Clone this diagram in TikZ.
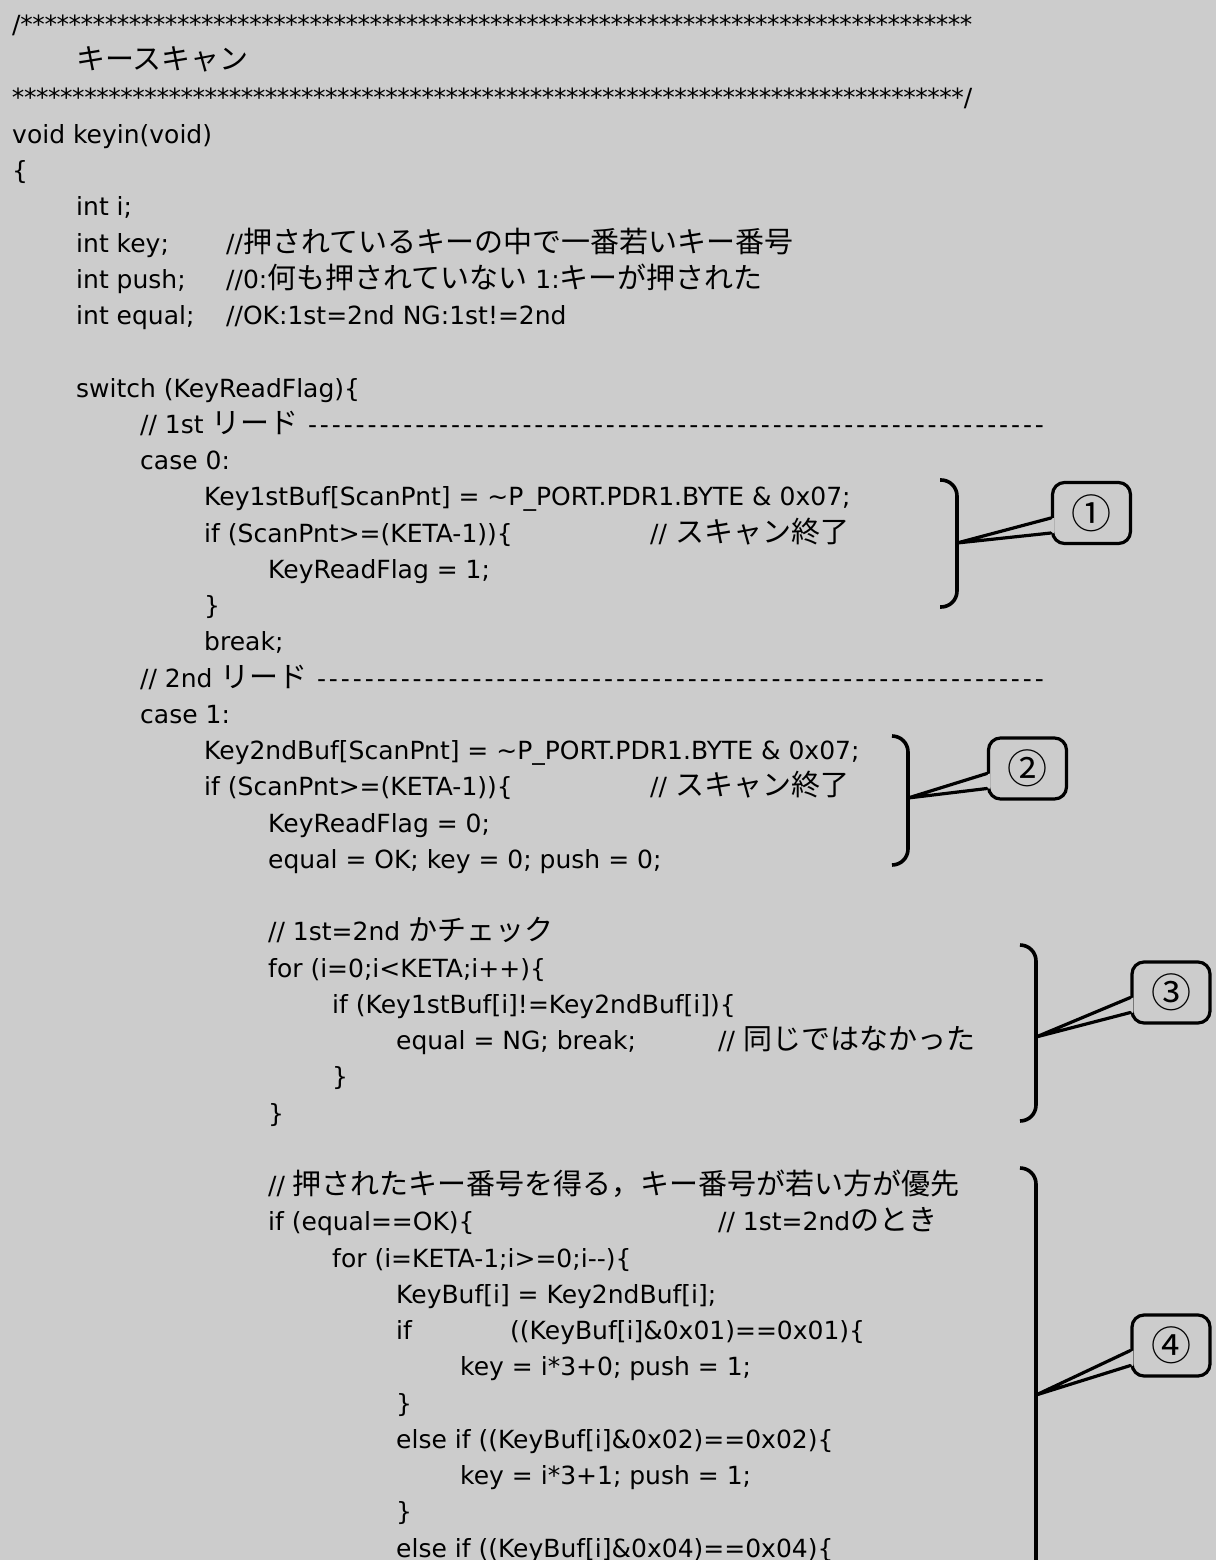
\documentclass[tikz,border=0pt]{standalone}
\usepackage{fontspec}
\usetikzlibrary{calc}
\newfontfamily\codefont{DejaVu Sans}
\newfontfamily\jpfont{Noto Sans CJK JP}
\newcommand\jp[1]{{\jpfont\fontsize{29pt}{30pt}\selectfont #1}}
\newcommand\repfill[2]{\xleaders\hbox to #1{\hss#2\hss}\hfill}
\definecolor{paper}{HTML}{CCCCCC}

\tikzset{
  code/.style={anchor=base west, inner sep=0pt, font=\codefont\fontsize{25pt}{30pt}\selectfont},
  brace/.style={line width=3.6pt, rounded corners=16pt},
  callbox/.style={draw, line width=3.2pt, rounded corners=12pt, fill=paper,
    minimum width=78pt, minimum height=61pt, inner sep=0pt,
    font=\jpfont\fontsize{40pt}{40pt}\selectfont},
  wedge/.style={line width=3.2pt, line join=round, line cap=round},
}

\begin{document}
\begin{tikzpicture}[x=1pt, y=-1pt]
\useasboundingbox (0,0) rectangle (1216,1560);
\fill[paper] (0,0) rectangle (1216,1560);
\clip (0,0) rectangle (1216,1560);

% header comment
\node[code] (l0) at (12,34) {\hbox to 960pt{/\repfill{12pt}{*}}};
\node[code] (l1) at (76,70) {\jp{キースキャン}};
\node[code] (l2) at (12,107) {\hbox to 960pt{\repfill{12pt}{*}/}};

% declarations
\node[code] (l3) at (12,143) {void keyin(void)};
\node[code] (l4) at (12,179) {\{};
\node[code] (l5) at (76,215) {int i;};
\node[code] (l6) at (76,252) {int key;};
\node[code] (c6) at (226,252) {//\jp{押されているキーの中で一番若いキー番号}};
\node[code] (l7) at (76,288) {int push;};
\node[code] (c7) at (226,288) {//0:\jp{何も押されていない} 1:\jp{キーが押された}};
\node[code] (l8) at (76,324) {int equal;};
\node[code] (c8) at (226,324) {//OK:1st=2nd NG:1st!=2nd};

% 1st read
\node[code] (l10) at (76,397) {switch (KeyReadFlag)\{};
\node[code] (l11) at (140,433) {\hbox to 905pt{// 1st \jp{リード} \repfill{11.9pt}{-}}};
\node[code] (l12) at (140,469) {case 0:};
\node[code] (l13) at (204,505) {Key1stBuf[ScanPnt] = \textasciitilde P\_PORT.PDR1.BYTE \& 0x07;};
\node[code] (l14) at (204,542) {if (ScanPnt>=(KETA-1))\{};
\node[code] (c14) at (650,542) {// \jp{スキャン終了}};
\node[code] (l15) at (268,578) {KeyReadFlag = 1;};
\node[code] (l16) at (204,614) {\}};
\node[code] (l17) at (204,650) {break;};

% 2nd read
\node[code] (l18) at (140,687) {\hbox to 905pt{// 2nd \jp{リード} \repfill{11.9pt}{-}}};
\node[code] (l19) at (140,723) {case 1:};
\node[code] (l20) at (204,759) {Key2ndBuf[ScanPnt] = \textasciitilde P\_PORT.PDR1.BYTE \& 0x07;};
\node[code] (l21) at (204,795) {if (ScanPnt>=(KETA-1))\{};
\node[code] (c21) at (650,795) {// \jp{スキャン終了}};
\node[code] (l22) at (268,832) {KeyReadFlag = 0;};
\node[code] (l23) at (268,868) {equal = OK; key = 0; push = 0;};

\node[code] (l25) at (268,940) {// 1st=2nd \jp{かチェック}};
\node[code] (l26) at (268,977) {for (i=0;i<KETA;i++)\{};
\node[code] (l27) at (332,1013) {if (Key1stBuf[i]!=Key2ndBuf[i])\{};
\node[code] (l28) at (396,1049) {equal = NG; break;};
\node[code] (c28) at (718,1049) {// \jp{同じではなかった}};
\node[code] (l29) at (332,1085) {\}};
\node[code] (l30) at (268,1122) {\}};

\node[code] (l32) at (268,1194) {// \jp{押されたキー番号を得る，キー番号が若い方が優先}};
\node[code] (l33) at (268,1230) {if (equal==OK)\{};
\node[code] (c33) at (718,1230) {// 1st=2nd\jp{のとき}};
\node[code] (l34) at (332,1267) {for (i=KETA-1;i>=0;i-\kern0pt-)\{};
\node[code] (l35) at (396,1303) {KeyBuf[i] = Key2ndBuf[i];};
\node[code] (l36) at (396,1339) {if};
\node[code] (m36) at (510,1339) {((KeyBuf[i]\&0x01)==0x01)\{};
\node[code] (l37) at (460,1375) {key = i*3+0; push = 1;};
\node[code] (l38) at (396,1412) {\}};
\node[code] (l39) at (396,1448) {else if ((KeyBuf[i]\&0x02)==0x02)\{};
\node[code] (l40) at (460,1484) {key = i*3+1; push = 1;};
\node[code] (l41) at (396,1520) {\}};
\node[code] (l42) at (396,1557) {else if ((KeyBuf[i]\&0x04)==0x04)\{};

% brackets
\draw[brace] (940,480) -- (957,480) -- (957,607) -- (940,607);
\draw[brace] (892,736) -- (908,736) -- (908,865) -- (892,865);
\draw[brace] (1020,945) -- (1036,945) -- (1036,1121) -- (1020,1121);
\draw[brace] (1020,1168) -- (1036,1168) -- (1036,1622) -- (1020,1622);
\coordinate (t1) at (957,543);
\coordinate (t2) at (908,798);
\coordinate (t3) at (1036,1037);
\coordinate (t4) at (1036,1395);

% callouts
\node[callbox] (n1) at (1091.5,513) {①};
\node[callbox] (n2) at (1027.5,768.5) {②};
\node[callbox] (n3) at (1171,992.5) {③};
\node[callbox] (n4) at (1171,1345.5) {④};
\foreach \i in {1,...,4}{
  \fill[paper] (t\i) -- ($(n\i.west)+(3,5)$) -- ($(n\i.west)+(3,20)$) -- cycle;
  \draw[wedge] ($(n\i.west)+(0,5)$) -- (t\i) -- ($(n\i.west)+(0,20)$);
}
\end{tikzpicture}
\end{document}
